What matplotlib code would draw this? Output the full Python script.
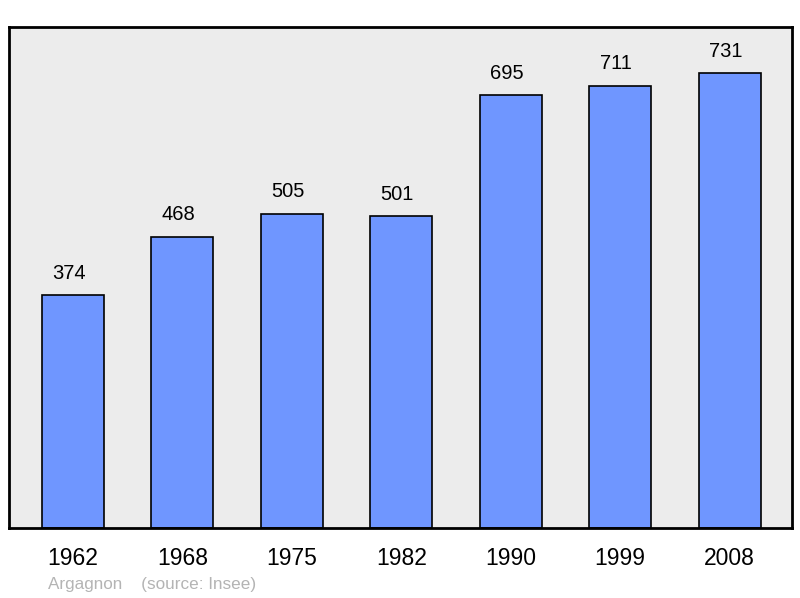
import matplotlib.pyplot as plt
import numpy as np

plt.rcParams['font.family'] = ['Liberation Sans', 'DejaVu Sans']

years = ["1962", "1968", "1975", "1982", "1990", "1999", "2008"]
population = [374, 468, 505, 501, 695, 711, 731]

fig = plt.figure(figsize=(8, 5.98), dpi=100)
ax = fig.add_axes([9 / 800, 1 - 528 / 598, 783 / 800, 501 / 598])
ax.set_facecolor("#ececec")

x = np.arange(len(years))
bars = ax.bar(x, population, width=0.567, color="#6f96ff", edgecolor="black", linewidth=1.2)

for xi, v in zip(x, population):
    ax.annotate(str(v), (xi, v), xytext=(-3, 9), textcoords="offset points",
                ha="center", va="bottom", fontsize=14.5)

ax.set_xlim(-0.585, 6.57)
ax.set_ylim(0, 805)
ax.set_xticks(x)
ax.set_xticklabels(years, fontsize=16.5)
ax.tick_params(axis="x", length=0, pad=14)
ax.set_yticks([])
for s in ax.spines.values():
    s.set_linewidth(2)

fig.text(48 / 800, 1 - 584 / 598, "Argagnon    (source: Insee)", color="#b4b4b4",
         fontsize=12.3, va="center", ha="left")

fig.savefig("out.png", dpi=100)
